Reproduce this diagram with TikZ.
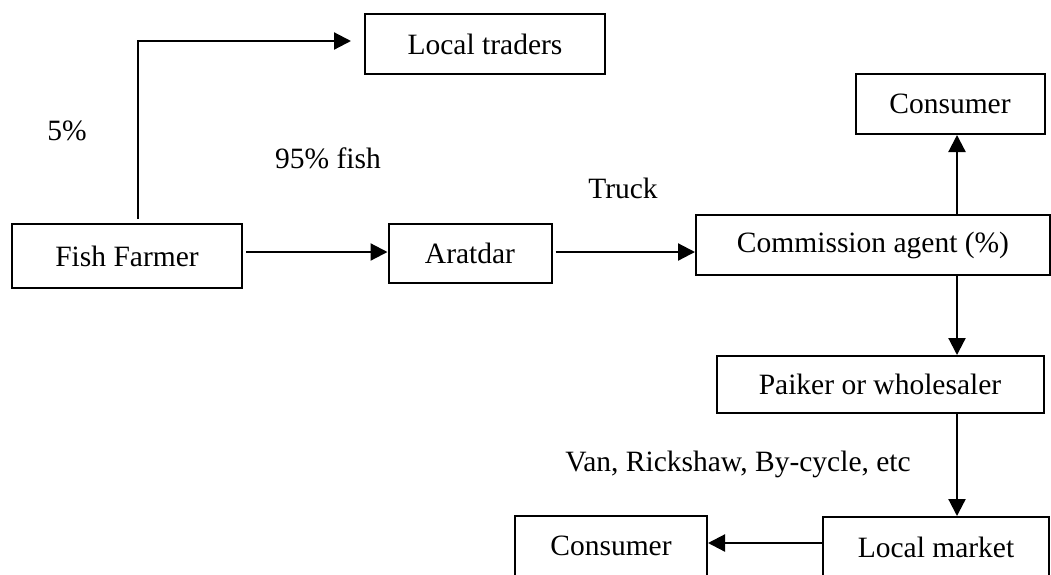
\documentclass[tikz,border=0pt]{standalone}
\usepackage{fontspec}
\setmainfont{Liberation Serif}
\usetikzlibrary{arrows.meta}

\begin{document}
\begin{tikzpicture}[x=1pt, y=-1pt,
		box/.style={draw, line width=2pt, minimum height=60pt, inner sep=0pt, font=\fontsize{29.5}{32}\selectfont},
		lbl/.style={font=\fontsize{29.5}{32}\selectfont},
		flow/.style={line width=2.2pt, -{Triangle[length=17pt,width=17pt]}}]
	\useasboundingbox (0,0) rectangle (1051,574);

	% boxes
	\node (ff) at (127,256) [box, minimum width=230pt, minimum height=64pt] {Fish Farmer};
	\node (lt) at (485,44) [box, minimum width=240pt] {Local traders};
	\node (ara) at (470,253) [box, minimum width=163pt, minimum height=59pt] {Aratdar};
	\node (ca) at (873,245) [box, minimum width=354pt] {Commission agent (\%)};
	\node (ct) at (950,104) [box, minimum width=189pt] {Consumer};
	\node (pk) at (880,384.5) [box, minimum width=327pt, minimum height=57pt] {Paiker or wholesaler};
	\node (lm) at (936,547) [box, minimum width=226pt] {Local market};
	\node (cb) at (611,546) [box, minimum width=192pt] {Consumer};

	% labels
	\node (l5) at (67,131) [lbl] {5\%};
	\node (l95) at (328,158) [lbl] {95\% fish};
	\node (ltr) at (623,188) [lbl] {Truck};
	\node (lvan) at (738,464) [lbl] {Van, Rickshaw, By-cycle, etc};

	\coordinate (vl) at (138,0);
	\coordinate (vx) at (957,0);

	% arrows
	\draw[flow, shorten <=4pt, shorten >=13pt] (ff.north -| vl) |- ([yshift=3pt]lt.west);
	\draw[flow, shorten <=3pt] ([yshift=4pt]ff.east) -- ([yshift=4pt]ff.east -| ara.west);
	\draw[flow, shorten <=3pt] ([yshift=1pt]ara.east) -- ([yshift=1pt]ara.east -| ca.west);
	\draw[flow] (ca.north -| vx) -- (ct.south -| vx);
	\draw[flow] (ca.south -| vx) -- (pk.north -| vx);
	\draw[flow] (pk.south -| vx) -- (lm.north -| vx);
	\draw[flow] ([yshift=4pt]lm.west) -- ([yshift=4pt]lm.west -| cb.east);
\end{tikzpicture}
\end{document}
